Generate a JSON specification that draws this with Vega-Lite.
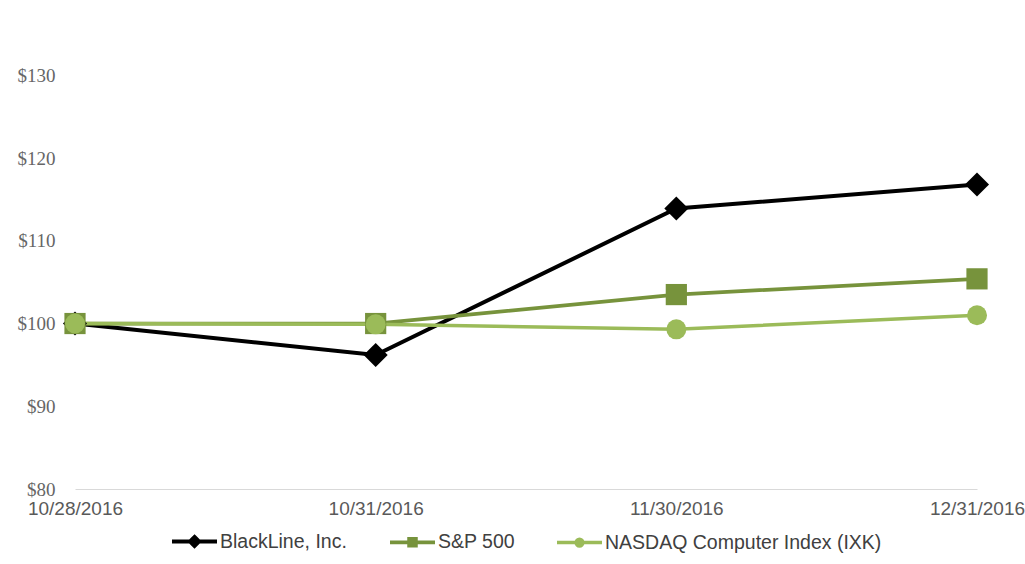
{
  "$schema": "https://vega.github.io/schema/vega-lite/v6.json",
  "width": 902,
  "height": 484,
  "autosize": {"type": "none"},
  "padding": {"left": 75, "top": 5, "right": 48, "bottom": 75},
  "background": "white",
  "config": {"view": {"stroke": null}},
  "data": {
    "values": [
      {"series": "BlackLine, Inc.", "date": "10/28/2016", "value": 100},
      {"series": "BlackLine, Inc.", "date": "10/31/2016", "value": 96.2},
      {"series": "BlackLine, Inc.", "date": "11/30/2016", "value": 113.9},
      {"series": "BlackLine, Inc.", "date": "12/31/2016", "value": 116.8},
      {"series": "S&P 500", "date": "10/28/2016", "value": 100},
      {"series": "S&P 500", "date": "10/31/2016", "value": 100},
      {"series": "S&P 500", "date": "11/30/2016", "value": 103.5},
      {"series": "S&P 500", "date": "12/31/2016", "value": 105.4},
      {"series": "NASDAQ Computer Index (IXK)", "date": "10/28/2016", "value": 100},
      {"series": "NASDAQ Computer Index (IXK)", "date": "10/31/2016", "value": 99.9},
      {"series": "NASDAQ Computer Index (IXK)", "date": "11/30/2016", "value": 99.3},
      {"series": "NASDAQ Computer Index (IXK)", "date": "12/31/2016", "value": 101.0}
    ]
  },
  "encoding": {
    "x": {
      "field": "date",
      "type": "ordinal",
      "sort": ["10/28/2016", "10/31/2016", "11/30/2016", "12/31/2016"],
      "scale": {"type": "point", "padding": 0},
      "axis": {
        "title": null,
        "labelAngle": 0,
        "domainColor": "#d9d9d9",
        "domainWidth": 1,
        "ticks": false,
        "grid": false,
        "labelPadding": 10,
        "labelFont": "Liberation Sans",
        "labelFontSize": 19,
        "labelColor": "#595959"
      }
    },
    "y": {
      "field": "value",
      "type": "quantitative",
      "scale": {"domain": [80, 138.5], "nice": false, "zero": false},
      "axis": {
        "title": null,
        "values": [80, 90, 100, 110, 120, 130],
        "format": "$,.0f",
        "domain": false,
        "ticks": false,
        "grid": false,
        "labelPadding": 20,
        "labelFont": "Liberation Serif",
        "labelFontSize": 19,
        "labelColor": "#666666"
      }
    },
    "color": {
      "field": "series",
      "type": "nominal",
      "scale": {
        "domain": ["BlackLine, Inc.", "S&P 500", "NASDAQ Computer Index (IXK)"],
        "range": ["#000000", "#77933C", "#9BBB59"]
      },
      "legend": {
        "title": null,
        "orient": "none",
        "direction": "horizontal",
        "legendX": 95,
        "legendY": 512,
        "padding": 0,
        "symbolSize": 2025,
        "symbolStrokeWidth": 3,
        "labelFont": "Liberation Sans",
        "labelFontSize": 19.5,
        "labelColor": "#404040",
        "labelOffset": 1,
        "labelLimit": 500,
        "columnPadding": 35,
        "encode": {
          "symbols": {
            "update": {
              "shape": {"signal": "datum.value === 'BlackLine, Inc.' ? 'M-1,0H1M0,-0.2L0.2,0L0,0.2L-0.2,0Z' : datum.value === 'S&P 500' ? 'M-1,0H1M-0.15,-0.15H0.15V0.15H-0.15Z' : 'M-1,0H1M0.15,0A0.15,0.15,0,1,1,-0.15,0A0.15,0.15,0,1,1,0.15,0Z'"},
              "stroke": {"scale": "color", "field": "value"},
              "fill": {"scale": "color", "field": "value"},
              "strokeWidth": {"value": 3},
              "opacity": {"value": 1}
            }
          }
        }
      }
    }
  },
  "layer": [
    {
      "mark": {"type": "line"},
      "encoding": {
        "strokeWidth": {
          "field": "series",
          "type": "nominal",
          "scale": {
            "domain": ["BlackLine, Inc.", "S&P 500", "NASDAQ Computer Index (IXK)"],
            "range": [4, 3.5, 3.5]
          },
          "legend": null
        }
      }
    },
    {
      "transform": [{"filter": "datum.series === 'BlackLine, Inc.'"}],
      "mark": {"type": "point", "filled": true, "opacity": 1, "shape": "diamond", "size": 580}
    },
    {
      "transform": [{"filter": "datum.series === 'S&P 500'"}],
      "mark": {"type": "point", "filled": true, "opacity": 1, "shape": "square", "size": 450}
    },
    {
      "transform": [{"filter": "datum.series === 'NASDAQ Computer Index (IXK)'"}],
      "mark": {"type": "point", "filled": true, "opacity": 1, "shape": "circle", "size": 400}
    }
  ]
}
